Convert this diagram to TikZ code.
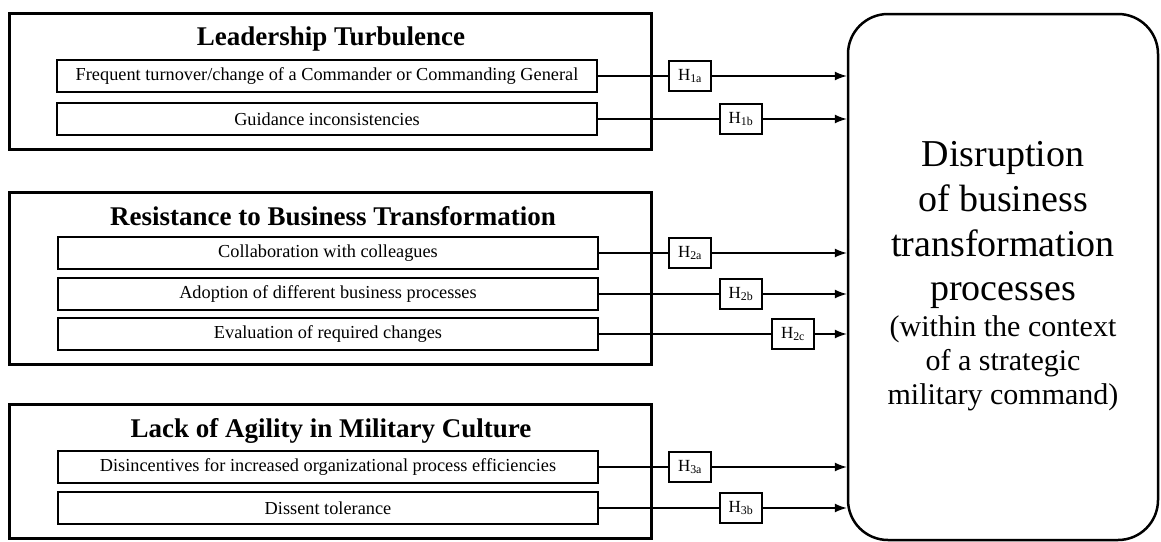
\documentclass[tikz,border=0pt]{standalone}
\usepackage{fontspec}
\setmainfont{Liberation Serif}
\usetikzlibrary{arrows.meta}
\begin{document}
\begin{tikzpicture}[x=1pt,y=-1pt,
  outerbox/.style={draw,line width=3pt,minimum width=642pt,inner sep=0pt},
  innerbox/.style={draw,line width=1.6pt,minimum width=540pt,minimum height=32pt,inner sep=0pt,font=\fontsize{18.3}{20}\selectfont},
  titletext/.style={font=\fontsize{27}{30}\selectfont\bfseries,anchor=base,inner sep=0pt},
  hbox/.style={draw,line width=1.3pt,minimum width=42pt,minimum height=30pt,inner sep=0pt,font=\fontsize{17}{19}\selectfont},
  conn/.style={line width=1.3pt},
  arr/.style={conn,-{Latex[length=12pt,width=9pt]}},
  bigline/.style={anchor=base,inner sep=0pt,font=\fontsize{38}{44}\selectfont},
  smallline/.style={anchor=base,inner sep=0pt,font=\fontsize{30}{34}\selectfont}]
\useasboundingbox (0,0) rectangle (1161,541);

% group outer boxes
\node[outerbox,minimum height=136pt] (g1) at (330,81) {};
\node[outerbox,minimum height=172pt] (g2) at (330,278) {};
\node[outerbox,minimum height=134pt] (g3) at (330,471) {};

% titles
\node[titletext] (t1) at (331,45) {Leadership Turbulence};
\node[titletext] (t2) at (333,225) {Resistance to Business Transformation};
\node[titletext] (t3) at (331,437) {Lack of Agility in Military Culture};

% inner boxes
\node[innerbox] (a1) at (327,76) {Frequent turnover/change of a Commander or Commanding General};
\node[innerbox] (a2) at (327,119) {Guidance inconsistencies};
\node[innerbox] (b1) at (328,253) {Collaboration with colleagues};
\node[innerbox] (b2) at (328,294) {Adoption of different business processes};
\node[innerbox] (b3) at (328,334) {Evaluation of required changes};
\node[innerbox] (c1) at (328,467) {Disincentives for increased organizational process efficiencies};
\node[innerbox] (c2) at (328,508) {Dissent tolerance};

% outcome box
\node[draw,line width=2.5pt,rounded corners=40pt,minimum width=310pt,minimum height=526pt,inner sep=0pt] (big) at (1003,277) {};
\node[bigline] (d1) at (1003,166) {Disruption};
\node[bigline] (d2) at (1003,211) {of business};
\node[bigline] (d3) at (1003,256) {transformation};
\node[bigline] (d4) at (1003,300) {processes};
\node[smallline] (d5) at (1003,336) {(within the context};
\node[smallline] (d6) at (1003,370) {of a strategic};
\node[smallline] (d7) at (1003,404) {military command)};

% hypothesis boxes
\node[hbox] (h1a) at (690,76) {H\textsubscript{1a}};
\node[hbox] (h1b) at (741,119) {H\textsubscript{1b}};
\node[hbox] (h2a) at (690,253) {H\textsubscript{2a}};
\node[hbox] (h2b) at (741,294) {H\textsubscript{2b}};
\node[hbox] (h2c) at (793,334) {H\textsubscript{2c}};
\node[hbox] (h3a) at (690,467) {H\textsubscript{3a}};
\node[hbox] (h3b) at (741,508) {H\textsubscript{3b}};

% connectors
\foreach \s/\h in {a1/h1a,a2/h1b,b1/h2a,b2/h2b,b3/h2c,c1/h3a,c2/h3b}{
  \draw[conn] (\s.east) -- (\h.west);
  \draw[arr] (\h.east) -- (\h.east -| big.west);
}
\end{tikzpicture}
\end{document}
